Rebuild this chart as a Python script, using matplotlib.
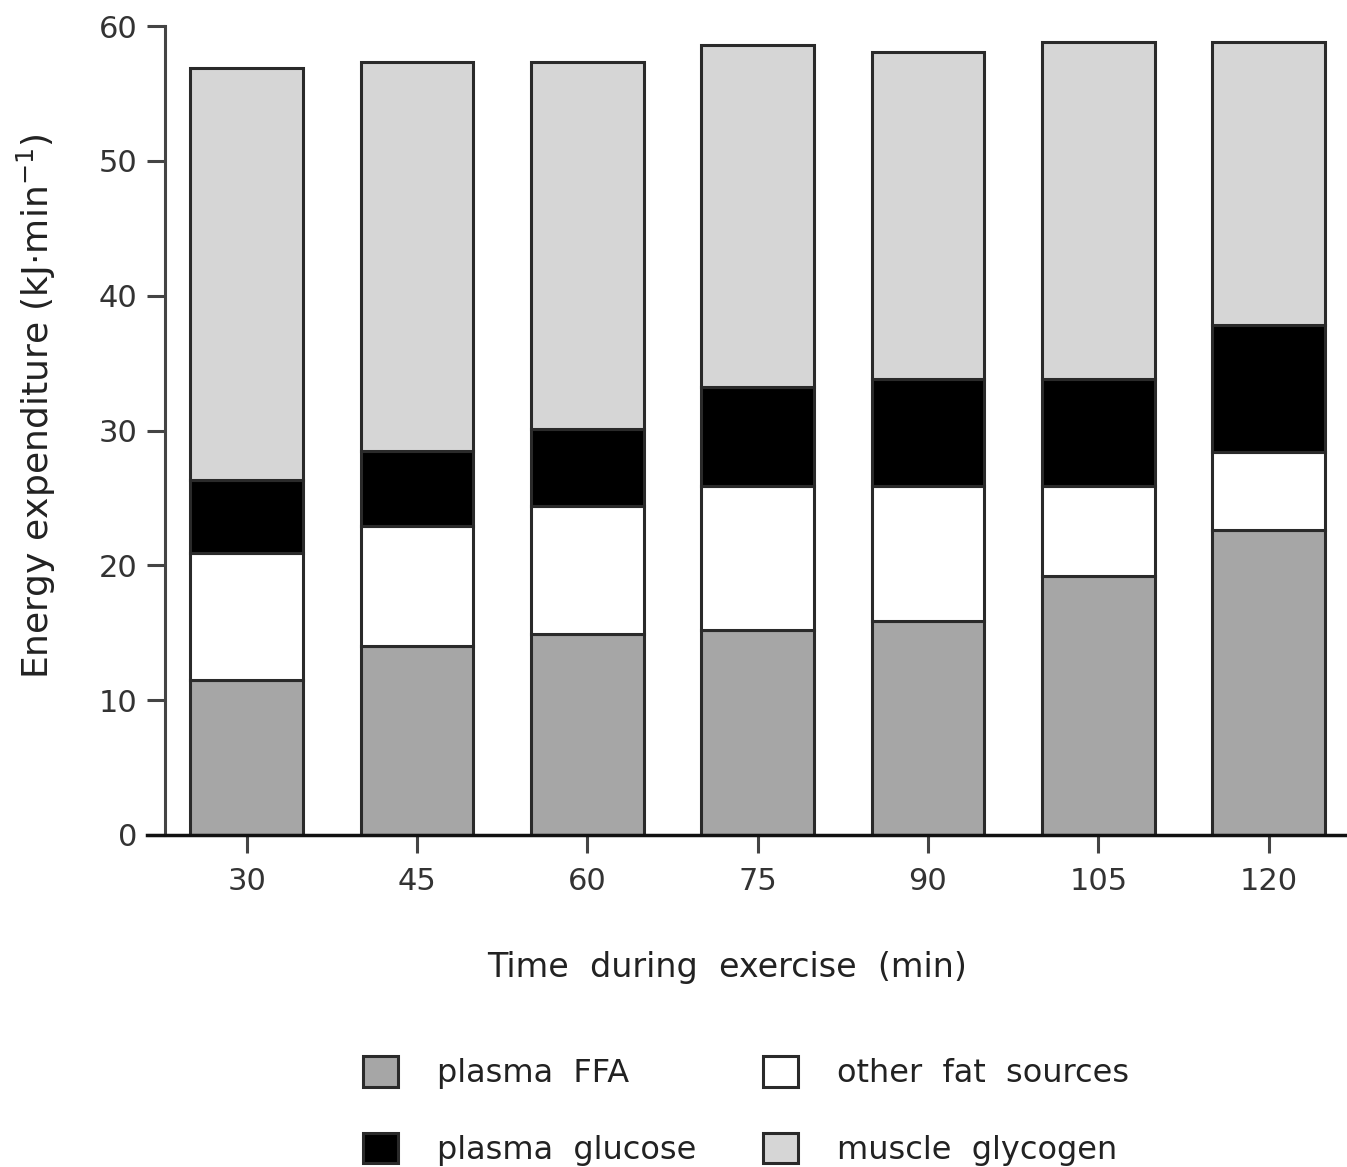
import matplotlib
matplotlib.use("Agg")
import matplotlib.pyplot as plt
import numpy as np

times = ["30", "45", "60", "75", "90", "105", "120"]
plasma_ffa = [11.5, 14.0, 14.9, 15.2, 15.9, 19.2, 22.6]
other_fat = [9.4, 8.9, 9.5, 10.7, 10.0, 6.7, 5.8]
plasma_glucose = [5.4, 5.6, 5.7, 7.3, 7.9, 7.9, 9.4]
muscle_glycogen = [30.6, 28.8, 27.2, 25.4, 24.3, 25.0, 21.0]

series = [
    ("plasma  FFA", plasma_ffa, "#a6a6a6"),
    ("other  fat  sources", other_fat, "#ffffff"),
    ("plasma  glucose", plasma_glucose, "#000000"),
    ("muscle  glycogen", muscle_glycogen, "#d6d6d6"),
]

plt.rcParams['font.family'] = ['DejaVu Sans']
fig = plt.figure(figsize=(13.47, 11.67), dpi=100)
ax = fig.add_axes([147/1347, 1-835/1167, 1-147/1347, (835-26)/1167])

x = np.arange(len(times))
bottom = np.zeros(len(times))
handles = {}
for name, vals, col in series:
    b = ax.bar(x, vals, bottom=bottom, width=0.66, color=col,
               edgecolor="#2a2a2a", linewidth=2.2, label=name)
    handles[name] = b
    bottom += np.array(vals)

ax.set_xlim(-0.585, 6.46)
ax.set_ylim(0, 60)
ax.spines['top'].set_visible(False)
ax.spines['right'].set_visible(False)
ax.spines['left'].set_position(('data', -0.479))
ax.spines['left'].set_linewidth(2.2)
ax.spines['left'].set_color("#444444")
ax.spines['bottom'].set_linewidth(2.5)
ax.spines['bottom'].set_color("#111111")

ax.set_yticks([0, 10, 20, 30, 40, 50, 60])
ax.set_xticks(x)
ax.set_xticklabels(times)
ax.tick_params(axis='both', direction='out', length=13, width=2.2, colors="#444444",
               labelsize=22, labelcolor="#333333")
ax.tick_params(axis='x', pad=10)
ax.tick_params(axis='y', pad=7)

ax.set_xlabel("Time  during  exercise  (min)", fontsize=24, color="#222222")
ax.xaxis.set_label_coords(0.483, -0.143)
ax.set_ylabel("Energy expenditure (kJ·min$^{-1}$)", fontsize=26, color="#222222")
ax.yaxis.set_label_coords(-0.074, 0.53)

order = ["plasma  FFA", "plasma  glucose", "other  fat  sources", "muscle  glycogen"]
leg = fig.legend([handles[n][0] for n in order], order, ncol=2, loc='center',
                 bbox_to_anchor=(746/1347, 1-1111/1167), frameon=False, fontsize=23,
                 handlelength=1.1, handleheight=1.1, handletextpad=1.2,
                 columnspacing=2.1, labelspacing=1.35)
for t in leg.get_texts():
    t.set_color("#222222")

fig.savefig("out.png", dpi=100)
